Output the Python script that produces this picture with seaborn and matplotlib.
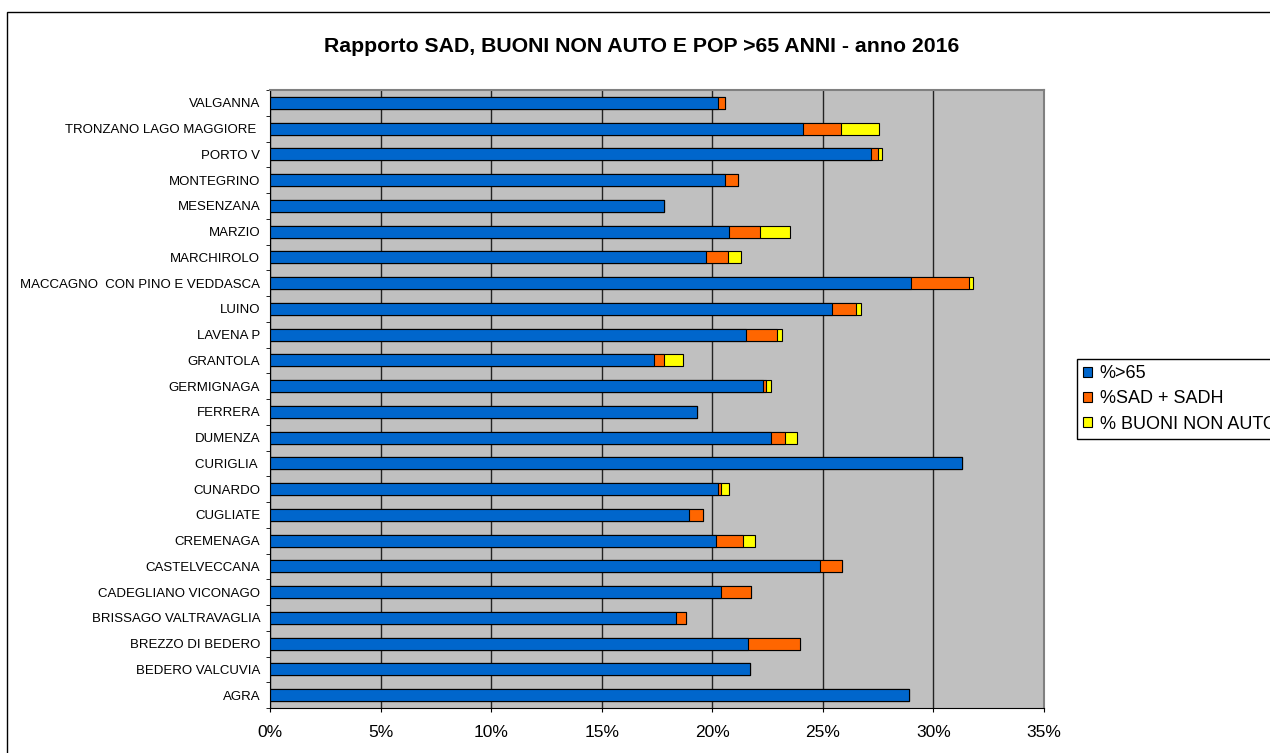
import numpy as np
import pandas as pd
import seaborn as sns
import matplotlib.pyplot as plt
from matplotlib.patches import Patch, Rectangle
from matplotlib.ticker import FuncFormatter

comuni = ["VALGANNA", "TRONZANO LAGO MAGGIORE ", "PORTO V", "MONTEGRINO", "MESENZANA",
          "MARZIO", "MARCHIROLO", "MACCAGNO  CON PINO E VEDDASCA", "LUINO", "LAVENA P",
          "GRANTOLA", "GERMIGNAGA", "FERRERA", "DUMENZA", "CURIGLIA ", "CUNARDO",
          "CUGLIATE", "CREMENAGA", "CASTELVECCANA", "CADEGLIANO VICONAGO",
          "BRISSAGO VALTRAVAGLIA", "BREZZO DI BEDERO", "BEDERO VALCUVIA", "AGRA"]

# values in percent
pop_65 = [20.25, 24.09, 27.18, 20.57, 17.81, 20.77, 19.70, 28.97, 25.42, 21.54, 17.35, 22.29,
          19.29, 22.65, 31.27, 20.25, 18.94, 20.16, 24.85, 20.41, 18.37, 21.63, 21.69, 28.88]
sad_sadh = [0.32, 1.74, 0.32, 0.60, 0, 1.38, 1.02, 2.66, 1.06, 1.37, 0.46, 0.12,
            0, 0.62, 0, 0.14, 0.65, 1.22, 1.01, 1.33, 0.46, 2.35, 0, 0]
buoni = [0, 1.73, 0.16, 0, 0, 1.37, 0.56, 0.15, 0.25, 0.25, 0.86, 0.24,
         0, 0.55, 0, 0.36, 0, 0.55, 0, 0, 0, 0, 0, 0]

serie = ["%>65", "%SAD + SADH", "% BUONI NON AUTO"]
colori = ["#0066CC", "#FF6600", "#FFFF00"]
x_ticks = [0, 5, 10, 15, 20, 25, 30, 35]

df = pd.DataFrame({"comune": comuni, "pop": pop_65, "sad": sad_sadh, "buoni": buoni})
df["tot_sad"] = df["pop"] + df["sad"]
df["tot"] = df["tot_sad"] + df["buoni"]

plt.rcParams["font.family"] = ["Liberation Sans", "DejaVu Sans"]

fig = plt.figure(figsize=(12.7, 7.53), dpi=100)
ax = fig.add_axes([270 / 1270, 1 - 708 / 753, (1044 - 270) / 1270, (708 - 90) / 753])
ax.set_facecolor("#C0C0C0")

# stacked bars: draw cumulative totals, biggest first
for col, c in zip(["tot", "tot_sad", "pop"], colori[::-1]):
    sns.barplot(data=df, x=col, y="comune", order=comuni, color=c, orient="h",
                width=0.47, edgecolor="black", linewidth=0.8, saturation=1, ax=ax)

ax.set_xlim(0, 35)
ax.set_ylim(23.5, -0.5)
ax.set_xticks(x_ticks)
ax.xaxis.set_major_formatter(FuncFormatter(lambda v, p: f"{v:.0f}%"))
ax.set_xlabel("")
ax.set_ylabel("")
ax.set_axisbelow(True)
ax.xaxis.grid(True, color="#222222", linewidth=1)
ax.yaxis.grid(False)

ax.set_yticks(np.arange(-0.5, len(comuni), 1), minor=True)
ax.tick_params(axis="y", which="major", length=0, pad=7, labelsize=9.5)
ax.tick_params(axis="y", which="minor", length=3, direction="out", color="black")
ax.tick_params(axis="x", length=3, direction="out", pad=9, labelsize=12.5)

for s in ["left", "bottom"]:
    ax.spines[s].set_color("black")
for s in ["top", "right"]:
    ax.spines[s].set_color("#808080")
    ax.spines[s].set_linewidth(1.5)

fig.text(0.505, 1 - 47 / 753, "Rapporto SAD, BUONI NON AUTO E POP >65 ANNI - anno 2016",
         ha="center", va="center", fontsize=15.3, fontweight="bold")

handles = [Patch(facecolor=c, edgecolor="black", linewidth=0.8) for c in colori]
leg = fig.legend(handles, serie, loc="upper left", bbox_to_anchor=(1077 / 1270, 1 - 359 / 753),
                 fontsize=13, frameon=True, fancybox=False, framealpha=1, edgecolor="black",
                 handlelength=0.5, handleheight=0.5, handletextpad=0.4, labelspacing=0.45,
                 borderpad=0.35, borderaxespad=0)
leg.get_frame().set_linewidth(1)

# outer chart border (runs off the right and bottom edges)
fig.patches.append(Rectangle((7 / 1270, -0.1), 1.2, 0.1 + (1 - 12 / 753), transform=fig.transFigure,
                             fill=False, edgecolor="black", linewidth=1))

fig.savefig("out.png", dpi=100)
